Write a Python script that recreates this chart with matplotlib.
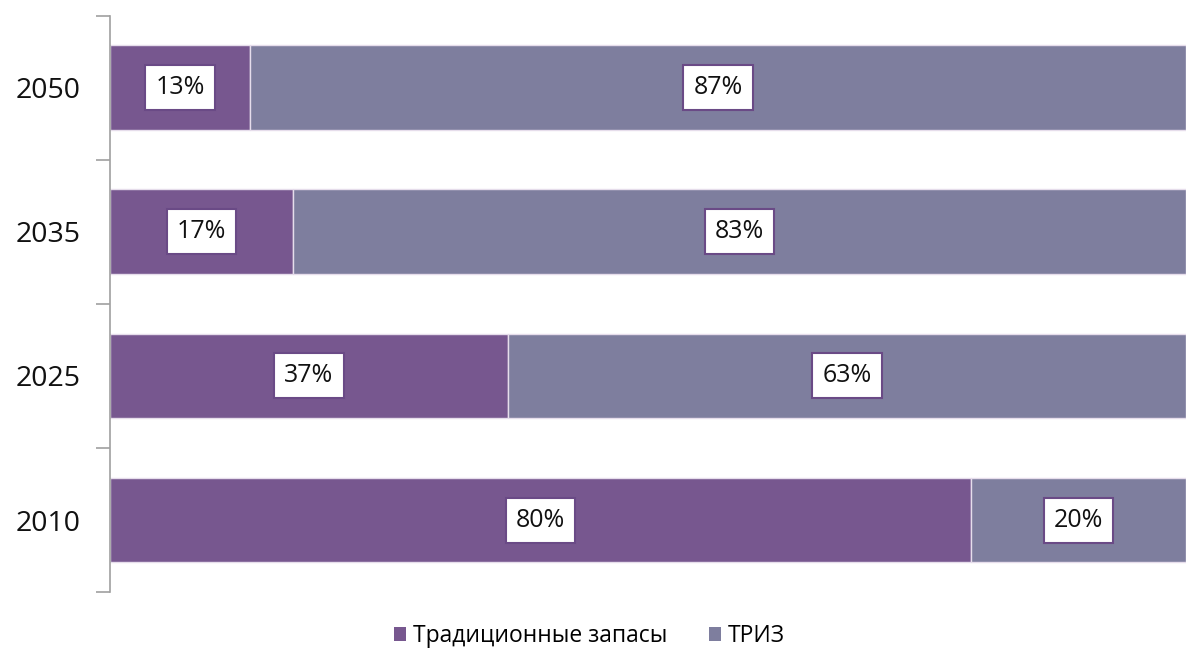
import numpy as np
import matplotlib.pyplot as plt
from matplotlib.patches import Patch

plt.rcParams['font.family'] = ['Open Sans', 'DejaVu Sans']

years = ['2010', '2025', '2035', '2050']
traditional = [80, 37, 17, 13]
triz = [20, 63, 83, 87]
series_names = ['Традиционные запасы', 'ТРИЗ']
colors = ['#77578F', '#7E7E9E']

fig = plt.figure(figsize=(11.86, 6.48), dpi=100)
ax = fig.add_axes([0.0927, 0.0864, 0.9073, 0.889])

y = np.arange(len(years))
h = 0.59
ax.barh(y, traditional, height=h, color=colors[0], edgecolor='#E6DDEB', linewidth=1)
ax.barh(y, triz, height=h, left=traditional, color=colors[1], edgecolor='#E6DDEB', linewidth=1)

box = dict(boxstyle='square,pad=0.4', facecolor='white', edgecolor='#6A4A86', linewidth=1.5)
for i in range(len(years)):
    ax.text(traditional[i] / 2, y[i], f'{traditional[i]}%', ha='center', va='center',
            fontsize=18, color='#111111', bbox=box)
    ax.text(traditional[i] + triz[i] / 2, y[i], f'{triz[i]}%', ha='center', va='center',
            fontsize=18, color='#111111', bbox=box)

ax.set_xlim(0, 100)
ax.set_ylim(-0.5, 3.5)
ax.set_xticks([])
ax.set_yticks(np.arange(-0.5, 4, 1))
ax.set_yticklabels([])
ax.set_yticks(y, minor=True)
ax.set_yticklabels(years, minor=True, fontsize=20.5, color='#111111')
ax.tick_params(axis='y', which='major', length=10, color='#A0A0A0', width=1.2)
ax.tick_params(axis='y', which='minor', length=0, pad=21)
for s in ['top', 'right', 'bottom']:
    ax.spines[s].set_visible(False)
ax.spines['left'].set_color('#A0A0A0')
ax.spines['left'].set_linewidth(1.2)

handles = [Patch(facecolor=c, edgecolor='none') for c in colors]
fig.legend(handles, series_names, loc='center', bbox_to_anchor=(0.497, 0.018),
           ncol=2, frameon=False, fontsize=16.5, handlelength=0.55, handleheight=0.55,
           handletextpad=0.3, columnspacing=1.8)

fig.savefig('out.png', dpi=100)
